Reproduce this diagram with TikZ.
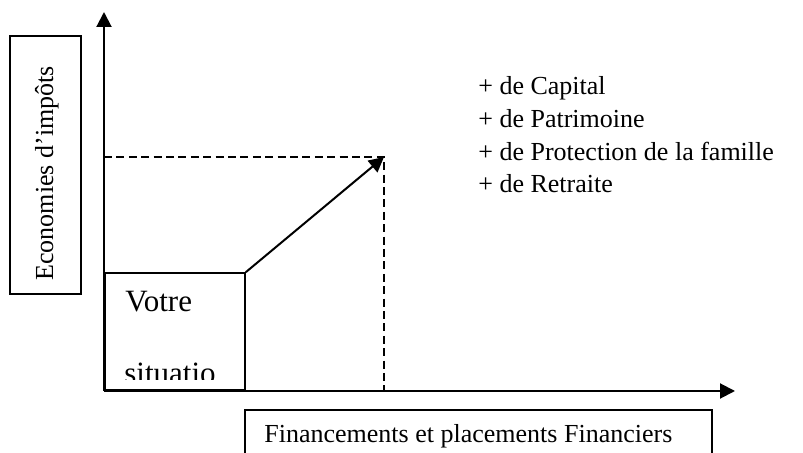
\documentclass[tikz,border=0pt]{standalone}
\usepackage{fontspec}
\setmainfont{Liberation Serif}
\usetikzlibrary{arrows.meta}
\begin{document}
\begin{tikzpicture}[x=0.5pt,y=-0.5pt,
  axis/.style={line width=1pt,-{Triangle[length=7.5pt,width=7.5pt]}},
  frame/.style={draw,line width=0.9pt,inner sep=0pt},
  guide/.style={line width=0.7pt,dash pattern=on 4pt off 2.2pt},
  lbl/.style={inner sep=0pt,font=\fontsize{13pt}{16pt}\selectfont},
  big/.style={inner sep=0pt,font=\fontsize{15.5pt}{18pt}\selectfont}]
\useasboundingbox (0,0) rectangle (803,453);
\clip (0,0) rectangle (803,453);
% key points
\coordinate (O) at (104,391);
\coordinate (Ytip) at (104,12);
\coordinate (Xtip) at (735,391);
\coordinate (S) at (244,274);
\coordinate (P) at (384,157);
\coordinate (Py) at (104,157);
\coordinate (Px) at (384,391);
% y label box
\node[frame,minimum width=35.5pt,minimum height=129pt] (ybox) at (45.5,165) {};
\node[lbl,rotate=90,anchor=base west] (ytext) at (53,281) {Economies d’impôts};
% bottom label box
\node[frame,minimum width=233.5pt,minimum height=40pt,anchor=north west] (xbox) at (244,409) {};
\node[lbl,anchor=base west] (xtext) at (264,443) {Financements et placements Financiers};
% situation box
\node[frame,minimum width=70pt,minimum height=58.5pt,anchor=south west] (sit) at (O) {};
\begin{scope}
\clip (104,274) rectangle (244,380);
\node[big,anchor=base west] (votre) at (125,312) {Votre};
\node[big,anchor=base west] (situ) at (124,384) {situatio};
\end{scope}
% guides
\draw[guide] (Py) -- (P) -- (Px);
% axes
\draw[axis] (O) -- (Ytip);
\draw[axis] (O) -- (Xtip);
\draw[axis] (sit.north east) -- (P);
% list
\node[lbl,anchor=base west] (l1) at (478,95) {+ de Capital};
\node[lbl,anchor=base west] (l2) at (478,128) {+ de Patrimoine};
\node[lbl,anchor=base west] (l3) at (478,161) {+ de Protection de la famille};
\node[lbl,anchor=base west] (l4) at (478,193) {+ de Retraite};
\end{tikzpicture}
\end{document}
